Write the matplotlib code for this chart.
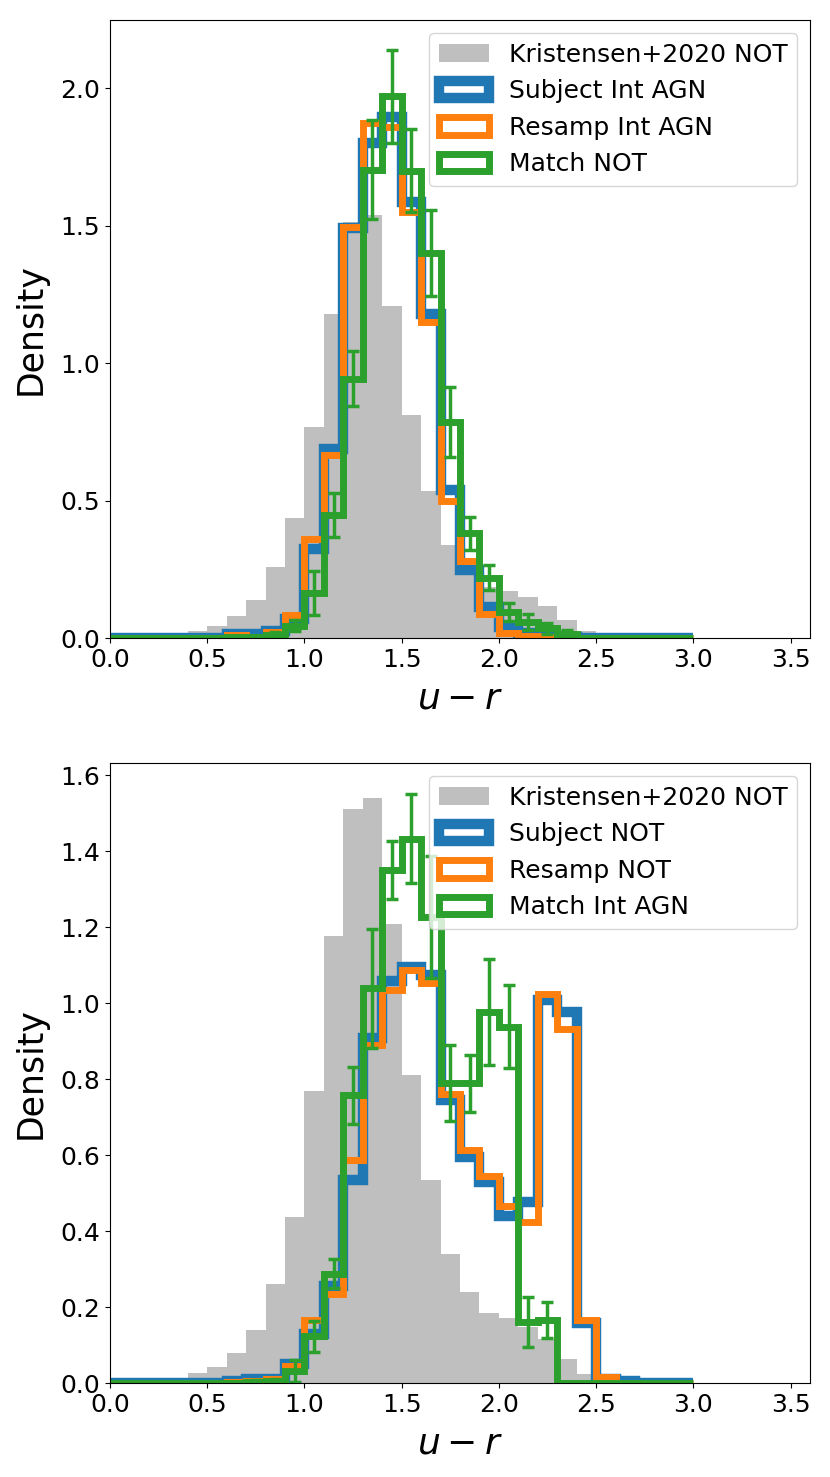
import numpy as np
import matplotlib
matplotlib.use('Agg')
import matplotlib.pyplot as plt

# bins de 0.1 entre 0 et 3
edges = np.round(np.arange(0, 3.01, 0.1), 2)
centers = edges[:-1] + 0.05

# Kristensen+2020 NOT (meme donnees dans les deux panneaux)
kris = [0, 0, 0, 0.008, 0.027, 0.043, 0.080, 0.139, 0.260, 0.437,
        0.768, 1.178, 1.512, 1.540, 1.208, 0.812, 0.534, 0.340, 0.240, 0.185,
        0.170, 0.148, 0.115, 0.064, 0.025, 0.013, 0.005, 0, 0, 0]

# panneau du haut
subj_agn = [0, 0, 0, 0, 0, 0, 0.013, 0.015, 0.024, 0.070,
            0.325, 0.689, 1.490, 1.800, 1.895, 1.585, 1.180, 0.537, 0.249, 0.113,
            0.040, 0.020, 0.008, 0.003, 0, 0, 0, 0, 0, 0]
resamp_agn = [0, 0, 0, 0, 0, 0, 0.012, 0.004, 0.022, 0.085,
              0.361, 0.664, 1.495, 1.873, 1.858, 1.550, 1.150, 0.497, 0.280, 0.086,
              0.018, 0.006, 0.003, 0, 0, 0, 0, 0, 0, 0]
match_not = [0, 0, 0, 0, 0, 0, 0.004, 0.004, 0.012, 0.045,
             0.165, 0.446, 0.943, 1.703, 1.970, 1.700, 1.400, 0.785, 0.382, 0.220,
             0.095, 0.058, 0.036, 0.016, 0, 0, 0, 0, 0, 0]
match_not_err = [0, 0, 0, 0, 0, 0, 0.005, 0.005, 0.010, 0.020,
                 0.080, 0.080, 0.100, 0.180, 0.170, 0.150, 0.155, 0.128, 0.060, 0.045,
                 0.033, 0.030, 0.020, 0.012, 0, 0, 0, 0, 0, 0]

# panneau du bas
subj_not = [0, 0, 0, 0, 0, 0, 0.005, 0.010, 0.012, 0.050,
            0.130, 0.255, 0.535, 0.907, 1.059, 1.096, 1.074, 0.744, 0.596, 0.529,
            0.441, 0.476, 1.008, 0.977, 0.157, 0.010, 0.005, 0, 0, 0]
resamp_not = [0, 0, 0, 0, 0, 0, 0.003, 0.005, 0.010, 0.045,
              0.165, 0.235, 0.588, 0.889, 1.034, 1.087, 1.052, 0.762, 0.614, 0.544,
              0.465, 0.424, 1.025, 0.931, 0.166, 0.017, 0, 0, 0, 0]
match_agn = [0, 0, 0, 0, 0, 0, 0, 0.003, 0.006, 0.032,
             0.123, 0.288, 0.757, 1.039, 1.350, 1.433, 1.226, 0.789, 0.789, 0.977,
             0.938, 0.161, 0.166, 0, 0, 0, 0, 0, 0, 0]
match_agn_err = [0, 0, 0, 0, 0, 0, 0, 0.004, 0.006, 0.030,
                 0.040, 0.038, 0.075, 0.156, 0.077, 0.118, 0.160, 0.100, 0.075, 0.140,
                 0.110, 0.065, 0.048, 0, 0, 0, 0, 0, 0, 0]

panels = [
    (subj_agn, resamp_agn, match_not, match_not_err,
     ['Subject Int AGN', 'Resamp Int AGN', 'Match NOT'], 2.247, np.arange(0, 2.01, 0.5)),
    (subj_not, resamp_not, match_agn, match_agn_err,
     ['Subject NOT', 'Resamp NOT', 'Match Int AGN'], 1.632, np.arange(0, 1.61, 0.2)),
]

fig = plt.figure(figsize=(8.3, 14.77), dpi=100)
positions = [[0.1325, 0.5680, 0.8434, 0.4184],
             [0.1325, 0.0636, 0.8434, 0.4198]]

for pos, (subj, resamp, match, err, labels, ytop, yt) in zip(positions, panels):
    ax = fig.add_axes(pos)
    ax.hist(centers, bins=edges, weights=kris, color='gray', alpha=0.5,
            label='Kristensen+2020 NOT')
    ax.hist(centers, bins=edges, weights=subj, histtype='step', lw=7.5,
            color='C0', label=labels[0])
    ax.hist(centers, bins=edges, weights=resamp, histtype='step', lw=5,
            color='C1', label=labels[1])
    ax.hist(centers, bins=edges, weights=match, histtype='step', lw=5,
            color='C2', label=labels[2])
    m = np.array(match) > 0
    ax.errorbar(centers[m], np.array(match)[m], yerr=np.array(err)[m], fmt='none',
                ecolor='C2', elinewidth=2.5, capsize=4, capthick=2.5)
    ax.set_xlim(0, 3.6)
    ax.set_ylim(0, ytop)
    ax.set_yticks(yt)
    ax.set_xticks(np.arange(0, 3.51, 0.5))
    ax.tick_params(labelsize=18)
    ax.set_xlabel('$u-r$', fontsize=26, labelpad=7)
    ax.set_ylabel('Density', fontsize=25, labelpad=9)
    ax.legend(loc='upper right', fontsize=18)

fig.savefig('out.png', dpi=100)
